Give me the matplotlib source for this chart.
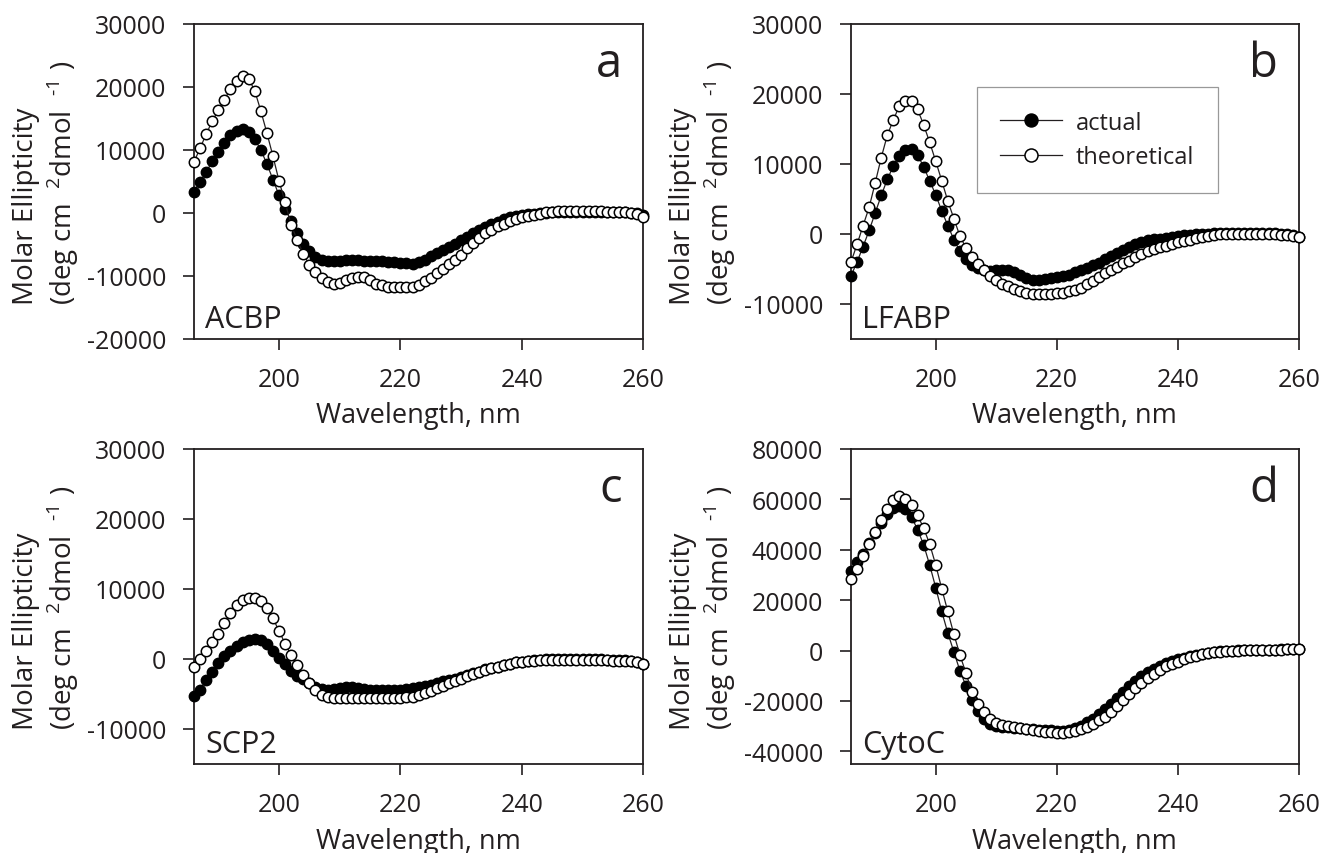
import matplotlib.pyplot as plt
import numpy as np

plt.rcParams['font.family'] = ['Open Sans', 'DejaVu Sans']
plt.rcParams['mathtext.fontset'] = 'custom'
plt.rcParams['mathtext.rm'] = 'Open Sans'
plt.rcParams['axes.unicode_minus'] = False

#=============data==========================================

wavelength = np.arange(186, 261)  # 1 nm steps

acbp_actual = [
    3400, 4900, 6500, 8200, 9700, 11100, 12300, 13000, 13300, 12900,
    11700, 10000, 7800, 5300, 2800, 600, -1300, -3200, -4900, -6100,
    -7000, -7500, -7700, -7700, -7600, -7500, -7500, -7500, -7600, -7600,
    -7700, -7700, -7800, -7800, -7900, -8000, -8100, -7800, -7400, -6900,
    -6400, -5900, -5400, -4900, -4300, -3800, -3200, -2700, -2200, -1800,
    -1400, -1000, -700, -500, -300, -200, -100, 0, 50, 100,
    150, 200, 200, 200, 200, 200, 200, 150, 150, 100,
    100, 100, 50, 0, -300]
acbp_theor = [
    8100, 10300, 12500, 14600, 16300, 18000, 19700, 21000, 21700, 21300,
    19400, 16200, 12700, 9000, 5100, 1700, -1900, -4300, -6500, -8200,
    -9400, -10400, -11000, -11300, -11100, -10700, -10300, -10100, -10200, -10700,
    -11200, -11500, -11700, -11800, -11800, -11800, -11800, -11400, -10800, -10300,
    -9600, -8900, -8100, -7400, -6600, -5600, -4700, -3900, -3200, -2700,
    -2100, -1700, -1300, -1000, -700, -450, -250, -100, 100, 200,
    300, 350, 370, 370, 370, 350, 300, 250, 200, 150,
    100, 100, 50, -200, -600]

lfabp_actual = [
    -6000, -4000, -1800, 500, 3000, 5500, 7800, 9700, 11200, 12000,
    12100, 11300, 9600, 7600, 5600, 3300, 1200, -800, -2500, -3600,
    -4400, -4900, -5200, -5300, -5200, -5100, -5200, -5500, -5900, -6300,
    -6600, -6600, -6500, -6300, -6200, -6000, -5800, -5500, -5200, -4900,
    -4500, -4100, -3600, -3200, -2700, -2300, -1900, -1500, -1200, -900,
    -700, -700, -600, -400, -300, -200, -100, -50, 0, 50,
    100, 150, 150, 200, 200, 200, 200, 200, 150, 150,
    100, 50, 0, -200, -500]
lfabp_theor = [
    -4000, -1500, 1200, 3800, 7300, 10900, 14100, 16300, 18300, 19000,
    19000, 17800, 15600, 13100, 10400, 7600, 4700, 2200, -300, -2000,
    -3300, -4300, -5200, -6000, -6600, -7100, -7500, -7800, -8100, -8400,
    -8600, -8600, -8600, -8600, -8500, -8400, -8200, -8000, -7700, -7200,
    -6700, -6100, -5600, -5100, -4700, -4200, -3800, -3300, -2900, -2500,
    -2200, -1900, -1700, -1500, -1200, -1000, -800, -600, -400, -250,
    -150, -50, 0, 0, 0, 0, 0, 0, 0, 0,
    -50, -100, -150, -300, -500]

scp2_actual = [
    -5300, -4400, -3000, -1800, -600, 400, 1200, 1900, 2400, 2750,
    2850, 2700, 2200, 1200, 200, -700, -1700, -2400, -2900, -3500,
    -4000, -4300, -4400, -4300, -4200, -4000, -3950, -4100, -4300, -4400,
    -4400, -4400, -4400, -4400, -4400, -4300, -4200, -4000, -3900, -3700,
    -3500, -3200, -3000, -2800, -2600, -2300, -2000, -1800, -1500, -1300,
    -1100, -900, -700, -500, -400, -300, -200, -100, -50, 0,
    0, 0, 0, 0, 0, 0, -50, -50, -100, -100,
    -150, -200, -250, -400, -700]
scp2_theor = [
    -1200, 0, 1200, 2400, 3600, 5200, 6500, 7700, 8400, 8650,
    8650, 8300, 7300, 5800, 4000, 2200, 500, -900, -2300, -3500,
    -4500, -5200, -5500, -5600, -5600, -5600, -5600, -5600, -5600, -5600,
    -5600, -5600, -5600, -5600, -5550, -5500, -5400, -5200, -4900, -4600,
    -4200, -3900, -3500, -3200, -2900, -2500, -2200, -1900, -1600, -1300,
    -1100, -900, -700, -500, -400, -300, -250, -150, -100, -100,
    -100, -100, -100, -100, -100, -100, -150, -150, -200, -250,
    -300, -300, -350, -450, -700]

cytoc_actual = [
    31500, 35000, 38500, 42500, 46500, 50500, 54000, 56500, 57300, 56000,
    53000, 48000, 42000, 34000, 25000, 15500, 7000, -500, -8000, -14000,
    -19500, -24000, -27000, -29000, -30000, -30300, -30500, -30700, -30900, -31100,
    -31300, -31500, -31600, -31700, -31800, -31800, -31500, -30800, -29800, -28500,
    -27000, -25300, -23300, -21000, -18700, -16300, -14000, -12000, -10200, -8600,
    -7200, -6000, -5000, -4200, -3500, -2800, -2200, -1700, -1200, -800,
    -500, -300, -150, 0, 100, 200, 250, 300, 350, 400,
    400, 450, 450, 500, 500]
cytoc_theor = [
    28500, 32500, 37400, 42300, 47000, 51900, 56300, 59900, 61200, 60300,
    57600, 53700, 48600, 42300, 34000, 24500, 15500, 6500, -1700, -9000,
    -16300, -21000, -24500, -27000, -28700, -29600, -30100, -30500, -30800, -31200,
    -31500, -31900, -32200, -32400, -32600, -32600, -32400, -32000, -31200, -30200,
    -29100, -27600, -26300, -24300, -22100, -19500, -17200, -14800, -12700, -11000,
    -9200, -7600, -6300, -5300, -4500, -3500, -2700, -2000, -1400, -1000,
    -700, -450, -250, -100, 0, 100, 150, 200, 250, 300,
    350, 400, 450, 500, 500]

panel_letters = ['a', 'b', 'c', 'd']
protein_names = ['ACBP', 'LFABP', 'SCP2', 'CytoC']
actual_data = [acbp_actual, lfabp_actual, scp2_actual, cytoc_actual]
theor_data = [acbp_theor, lfabp_theor, scp2_theor, cytoc_theor]
y_limits = [(-20000, 30000), (-15000, 30000), (-15000, 30000), (-45000, 80000)]
y_ticks = [np.arange(-20000, 30001, 10000), np.arange(-10000, 30001, 10000),
           np.arange(-10000, 30001, 10000), np.arange(-40000, 80001, 20000)]

#=============figure====================

fig = plt.figure(figsize=(13.21, 8.54), dpi=100)
positions = [[0.1469, 0.6019, 0.340, 0.3689],
             [0.6442, 0.6019, 0.339, 0.3689],
             [0.1469, 0.1042, 0.340, 0.3690],
             [0.6442, 0.1042, 0.339, 0.3690]]

dark = '#231f20'
ylab = 'Molar Ellipticity\n(deg cm  $^{2}$dmol  $^{\\text{-1}}$ )'

for i in range(4):
    ax = fig.add_axes(positions[i])
    ax.plot(wavelength, actual_data[i], '-o', color=dark, lw=0.9, ms=7.5,
            mfc='black', mec='black', mew=1.0, clip_on=False, label='actual', zorder=3)
    ax.plot(wavelength, theor_data[i], '-o', color=dark, lw=0.9, ms=7.5,
            mfc='white', mec='black', mew=1.1, clip_on=False, label='theoretical', zorder=4)
    ax.set_xlim(186, 260)
    ax.set_ylim(*y_limits[i])
    ax.set_xticks([200, 220, 240, 260])
    ax.set_yticks(y_ticks[i])
    ax.tick_params(direction='out', length=8, width=1.2, colors=dark,
                   labelsize=18, pad=12, top=False, right=False)
    for s in ax.spines.values():
        s.set_color(dark)
        s.set_linewidth(1.3)
    ax.set_xlabel('Wavelength, nm', fontsize=19.5, color=dark, labelpad=7)
    ax.set_ylabel(ylab, fontsize=20, color=dark, multialignment='left', labelpad=4)
    ax.text(0.953, 0.835, panel_letters[i], transform=ax.transAxes,
            ha='right', va='baseline', fontsize=34, color=dark)
    ax.text(0.025, 0.038, protein_names[i], transform=ax.transAxes,
            ha='left', va='baseline', fontsize=22, color=dark)
    if i == 1:
        leg = ax.legend(loc='upper left', bbox_to_anchor=(0.281, 0.8), borderaxespad=0,
                        fancybox=False, edgecolor='#999999', framealpha=1, fontsize=17,
                        handlelength=2.6, handletextpad=0.6, borderpad=1.0,
                        labelspacing=0.45, markerscale=1.25)
        leg.get_frame().set_linewidth(0.9)
        for t in leg.get_texts():
            t.set_color(dark)

fig.savefig('out.png', dpi=100)
